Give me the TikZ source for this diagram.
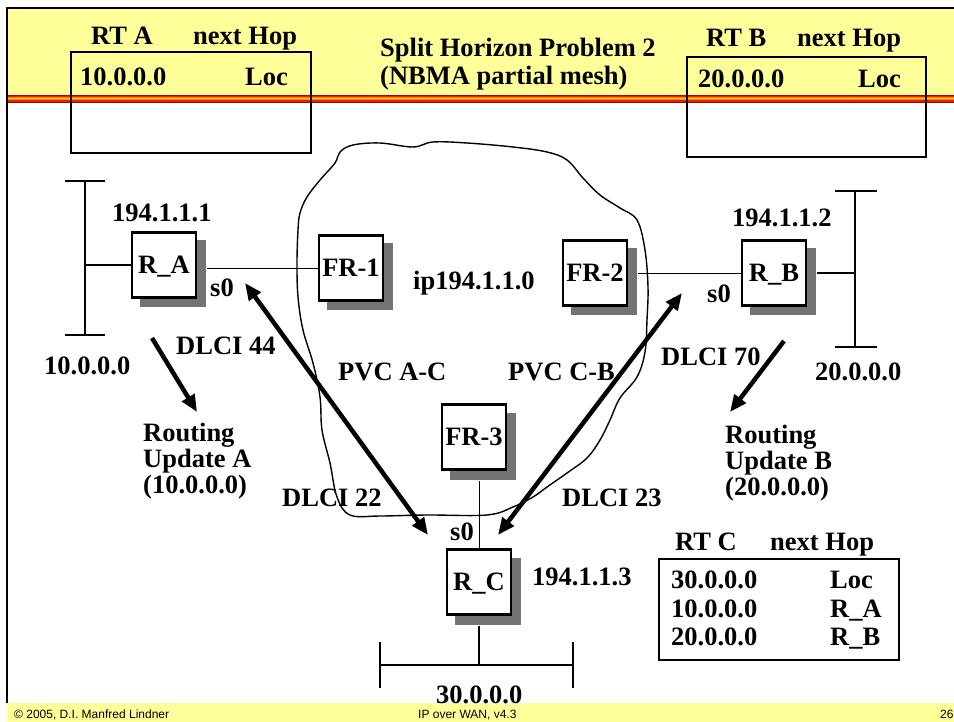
\documentclass[tikz,border=0pt]{standalone}
\usepackage{fontspec}
\setmainfont{Liberation Serif}
\newfontfamily\footfont{Liberation Sans}
\usetikzlibrary{arrows.meta,calc,shadows}
\definecolor{slideyellow}{RGB}{255,255,153}
\definecolor{stripedark}{RGB}{170,0,0}
\definecolor{stripered}{RGB}{230,30,0}
\definecolor{stripeorange}{RGB}{255,130,0}
\definecolor{stripeyellow}{RGB}{255,215,0}
\definecolor{shadowgray}{RGB}{115,115,115}

\begin{document}
\begin{tikzpicture}[x=1pt,y=-1pt,>={Triangle[length=17pt,width=14pt]},
    every node/.style={font=\fontsize{26.5}{29}\selectfont\bfseries,inner sep=0pt},
    txt/.style={anchor=base west},
    router/.style={draw,line width=2.5pt,fill=white,minimum width=64pt,minimum height=65pt,text depth=0pt,
        general shadow={shadow xshift=9pt,shadow yshift=-9pt,fill=shadowgray,draw=shadowgray,line width=2pt}},
    table/.style={draw,line width=2pt},
    bus/.style={line width=2.5pt},
    fat/.style={line width=4.5pt}]
    \useasboundingbox (0,0) rectangle (954,722);
    \fill[slideyellow] (7,8) rectangle (954,95);
    \fill[stripedark] (7,95) rectangle (954,96.5);
    \fill[stripered] (7,96.5) rectangle (954,97.5);
    \fill[stripeorange] (7,97.5) rectangle (954,98.5);
    \fill[stripeyellow] (7,98.5) rectangle (954,99.5);
    \fill[stripeorange] (7,99.5) rectangle (954,100.5);
    \fill[stripered] (7,100.5) rectangle (954,102);
    \fill[stripedark] (7,102) rectangle (954,103);
    \fill[slideyellow] (7,703) rectangle (954,722);
    \draw[line width=2pt] (7,703) -- (7,8) -- (954,8);

    \node[txt] (title1) at (380,57) {Split Horizon Problem 2};
    \node[txt] (title2) at (380,85) {(NBMA partial mesh)};

    \draw[table] (71,52) rectangle (311,153);
    \node[txt] (rtA) at (91,45) {RT A};
    \node[txt] (hopA) at (193,45) {next Hop};
    \node[txt] (netA) at (80,86) {10.0.0.0};
    \node[txt] (locA) at (245,86) {Loc};

    \draw[table] (687,57) rectangle (926,157);
    \node[txt] (rtB) at (706,47) {RT B};
    \node[txt] (hopB) at (797,47) {next Hop};
    \node[txt] (netB) at (698,88) {20.0.0.0};
    \node[txt] (locB) at (858,88) {Loc};

    \draw[line width=1.4pt] plot[smooth cycle,tension=0.6] coordinates {
        (298,230) (300,213) (307,197) (320,180) (335,163) (340,152) (353,145) (380,143)
        (413,147) (433,142) (467,143) (513,147) (547,152) (567,160) (583,178) (600,195)
        (620,208) (637,220) (645,250) (648,287) (647,320) (645,352) (637,377) (620,398)
        (610,420) (600,440) (587,458) (567,473) (547,487) (533,497) (513,507) (487,515)
        (427,515) (380,516) (350,515) (337,497) (330,463) (322,430) (320,397) (313,363)
        (303,330) (298,297) (297,263)};

    \draw[bus] (85,181) -- (85,335) (65,181) -- (105,181) (65,335) -- (105,335);
    \draw[bus] (855,191) -- (855,347) (835,191) -- (877,191) (835,347) -- (877,347);
    \draw[bus] (380,665) -- (573,665) (380,642) -- (380,688) (573,642) -- (573,688);
    \coordinate (busA) at (85,265);
    \coordinate (busB) at (855,273);
    \coordinate (busC) at (479,665);

    \node[router] (R_A) at (164,265) {R\_A};
    \node[router] (FR1) at (351,268) {FR-1};
    \node[router] (FR2) at (595,273) {FR-2};
    \node[router] (R_B) at (774,273) {R\_B};
    \node[router] (FR3) at (474,437) {FR-3};
    \node[router] (R_C) at (479,582) {R\_C};

    \draw[bus] (busA) -- (R_A.west);
    \draw (FR1.west) -- ($(FR1.west -| R_A.east)+(10,0)$);
    \draw ($(FR2.east)+(10,0)$) -- (R_B.west);
    \draw[bus] ($(R_B.east)+(10,0)$) -- (busB);
    \draw (R_C.north) -- ($(R_C.north |- FR3.south)+(0,10)$);
    \draw[bus] ($(R_C.south)+(0,10)$) -- (busC);

    \node[txt] (ipA) at (112,222) {194.1.1.1};
    \node[txt] (lanA) at (44,374) {10.0.0.0};
    \node[txt] (s0A) at (210,297) {s0};
    \node[txt] (dlci44) at (176,355) {DLCI 44};
    \node[txt] (ipnet) at (413,290) {ip194.1.1.0};
    \node[txt] (pvcAC) at (338,380) {PVC A-C};
    \node[txt] (pvcCB) at (508,380) {PVC C-B};
    \node[txt] (dlci70) at (661,366) {DLCI 70};
    \node[txt] (ipB) at (732,227) {194.1.1.2};
    \node[txt] (s0B) at (707,303) {s0};
    \node[txt] (lanB) at (815,381) {20.0.0.0};
    \node[txt] (dlci22) at (282,506) {DLCI 22};
    \node[txt] (dlci23) at (562,506) {DLCI 23};
    \node[txt] (s0C) at (450,540) {s0};
    \node[txt] (ipC) at (532,585) {194.1.1.3};
    \node[txt] (lanC) at (436,703) {30.0.0.0};

    \node[txt] (updA1) at (143,441) {Routing};
    \node[txt] (updA2) at (143,467) {Update A};
    \node[txt] (updA3) at (143,493) {(10.0.0.0)};
    \node[txt] (updB1) at (725,443) {Routing};
    \node[txt] (updB2) at (725,469) {Update B};
    \node[txt] (updB3) at (725,495) {(20.0.0.0)};

    \draw[table] (659,559) rectangle (899,660);
    \node[txt] (rtC) at (675,550) {RT C};
    \node[txt] (hopC) at (770,550) {next Hop};
    \node[txt] (rowC1) at (671,588) {30.0.0.0};
    \node[txt] (rowC2) at (671,617) {10.0.0.0};
    \node[txt] (rowC3) at (671,645) {20.0.0.0};
    \node[txt] (nhC1) at (830,588) {Loc};
    \node[txt] (nhC2) at (830,617) {R\_A};
    \node[txt] (nhC3) at (830,645) {R\_B};

    \coordinate (pvcA1) at (245,283);
    \coordinate (pvcA2) at (428,535);
    \coordinate (pvcB1) at (682,293);
    \coordinate (pvcB2) at (498,535);
    \coordinate (updAs) at (152,338);
    \coordinate (updAe) at (197,412);
    \coordinate (updBs) at (784,341);
    \coordinate (updBe) at (730,412);
    \draw[fat,<->] (pvcA1) -- (pvcA2);
    \draw[fat,<->] (pvcB1) -- (pvcB2);
    \draw[fat,->] (updAs) -- (updAe);
    \draw[fat,->] (updBs) -- (updBe);

    \node[txt,font=\footfont\fontsize{12}{14}\selectfont] (copy) at (14,718) {© 2005, D.I. Manfred Lindner};
    \node[txt,font=\footfont\fontsize{12}{14}\selectfont] (course) at (418,718) {IP over WAN, v4.3};
    \node[txt,font=\footfont\fontsize{12}{14}\selectfont] (page) at (940,718) {26};
\end{tikzpicture}
\end{document}
